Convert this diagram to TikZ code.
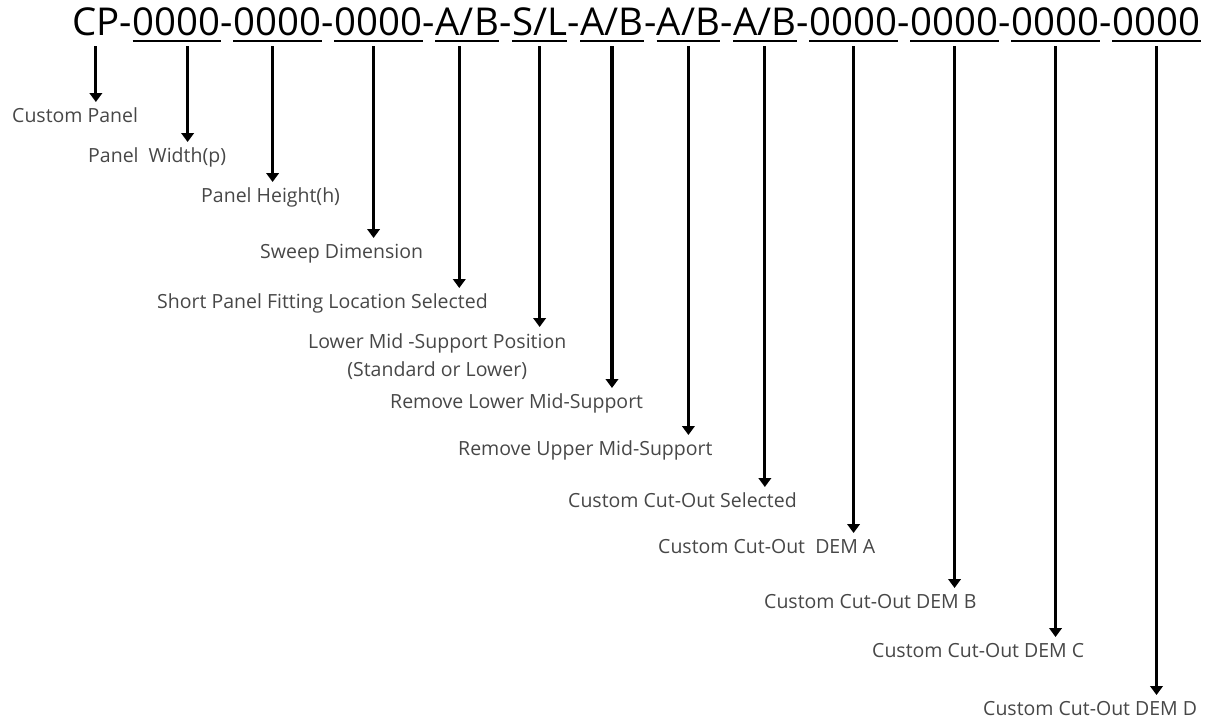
\documentclass[tikz,border=0pt]{standalone}
\usepackage{fontspec}
\setmainfont{Open Sans}
\usetikzlibrary{arrows.meta,positioning,calc}

\begin{document}
\begin{tikzpicture}[x=1pt,y=-1pt,
    seg/.style={inner sep=0pt, text depth=11pt, anchor=base west,
      font=\fontsize{38.4}{40}\selectfont},
    lbltext/.style={inner xsep=0pt, inner ysep=6pt, anchor=north west,
      font=\fontsize{19.5}{28}\selectfont, text=black!72},
    lbl/.style={lbltext, text height=14pt, text depth=4pt},
    pointer/.style={line width=3.2pt, -{Triangle[width=12.5pt,length=9pt]}},
    uline/.style={line width=2.2pt}]
  \useasboundingbox (0,0) rectangle (1208,724);

  % part number
  \node[seg] (cp) at (72,35) {CP};
  \node[seg] (h1) at (cp.base east) {-};
  \node[seg] (pw) at (h1.base east) {0000};
  \node[seg] (h2) at (pw.base east) {-};
  \node[seg] (ph) at (h2.base east) {0000};
  \node[seg] (h3) at (ph.base east) {-};
  \node[seg] (sw) at (h3.base east) {0000};
  \node[seg] (h4) at (sw.base east) {-};
  \node[seg] (sp) at (h4.base east) {A/B};
  \node[seg] (h5) at (sp.base east) {-};
  \node[seg] (lm) at (h5.base east) {S/L};
  \node[seg] (h6) at (lm.base east) {-};
  \node[seg] (rl) at (h6.base east) {A/B};
  \node[seg] (h7) at (rl.base east) {-};
  \node[seg] (ru) at (h7.base east) {A/B};
  \node[seg] (h8) at (ru.base east) {-};
  \node[seg] (cc) at (h8.base east) {A/B};
  \node[seg] (h9) at (cc.base east) {-};
  \node[seg] (da) at (h9.base east) {0000};
  \node[seg] (h10) at (da.base east) {-};
  \node[seg] (db) at (h10.base east) {0000};
  \node[seg] (h11) at (db.base east) {-};
  \node[seg] (dc) at (h11.base east) {0000};
  \node[seg] (h12) at (dc.base east) {-};
  \node[seg] (dd) at (h12.base east) {0000};

  % underlines
  \foreach \s in {pw,ph,sw,sp,lm,rl,ru,cc,da,db,dc,dd}
    \draw[uline] ([yshift=-6pt]\s.base west) -- ([yshift=-6pt]\s.base east);

  % labels
  \node[lbl] (cpL) at (12,102) {Custom Panel};
  \node[lbl] (pwL) at (88,142) {Panel\ \ Width(p)};
  \node[lbl] (phL) at (201,182) {Panel Height(h)};
  \node[lbl] (swL) at (260,238) {Sweep Dimension};
  \node[lbl] (spL) at (157,288) {Short Panel Fitting Location Selected};
  \node[lbltext, align=center] (lmL) at (308,327) {Lower Mid -Support Position\\(Standard or Lower)};
  \node[lbl] (rlL) at (390,388) {Remove Lower Mid-Support};
  \node[lbl] (ruL) at (458,435) {Remove Upper Mid-Support};
  \node[lbl] (ccL) at (568,487) {Custom Cut-Out Selected};
  \node[lbl] (daL) at (658,533) {Custom Cut-Out\ \ DEM A};
  \node[lbl] (dbL) at (764,588) {Custom Cut-Out DEM B};
  \node[lbl] (dcL) at (872,637) {Custom Cut-Out DEM C};
  \node[lbl] (ddL) at (983,695) {Custom Cut-Out DEM D};

  % pointers
  \draw[pointer] (cp.south) -- (cp.south |- cpL.north);
  \draw[pointer] ([xshift=11pt]pw.south) -- ([xshift=11pt]pw.south |- pwL.north);
  \draw[pointer] ([xshift=-5pt]ph.south) -- ([xshift=-5pt]ph.south |- phL.north);
  \draw[pointer] ([xshift=-5pt]sw.south) -- ([xshift=-5pt]sw.south |- swL.north);
  \draw[pointer] ([xshift=-8pt]sp.south) -- ([xshift=-8pt]sp.south |- spL.north);
  \draw[pointer] (lm.south) -- (lm.south |- lmL.north);
  \draw[pointer] (rl.south) -- (rl.south |- rlL.north);
  \draw[pointer] (ru.south) -- (ru.south |- ruL.north);
  \draw[pointer] (cc.south) -- (cc.south |- ccL.north);
  \draw[pointer] (da.south) -- (da.south |- daL.north);
  \draw[pointer] (db.south) -- (db.south |- dbL.north);
  \draw[pointer] (dc.south) -- (dc.south |- dcL.north);
  \draw[pointer] (dd.south) -- (dd.south |- ddL.north);
\end{tikzpicture}
\end{document}
